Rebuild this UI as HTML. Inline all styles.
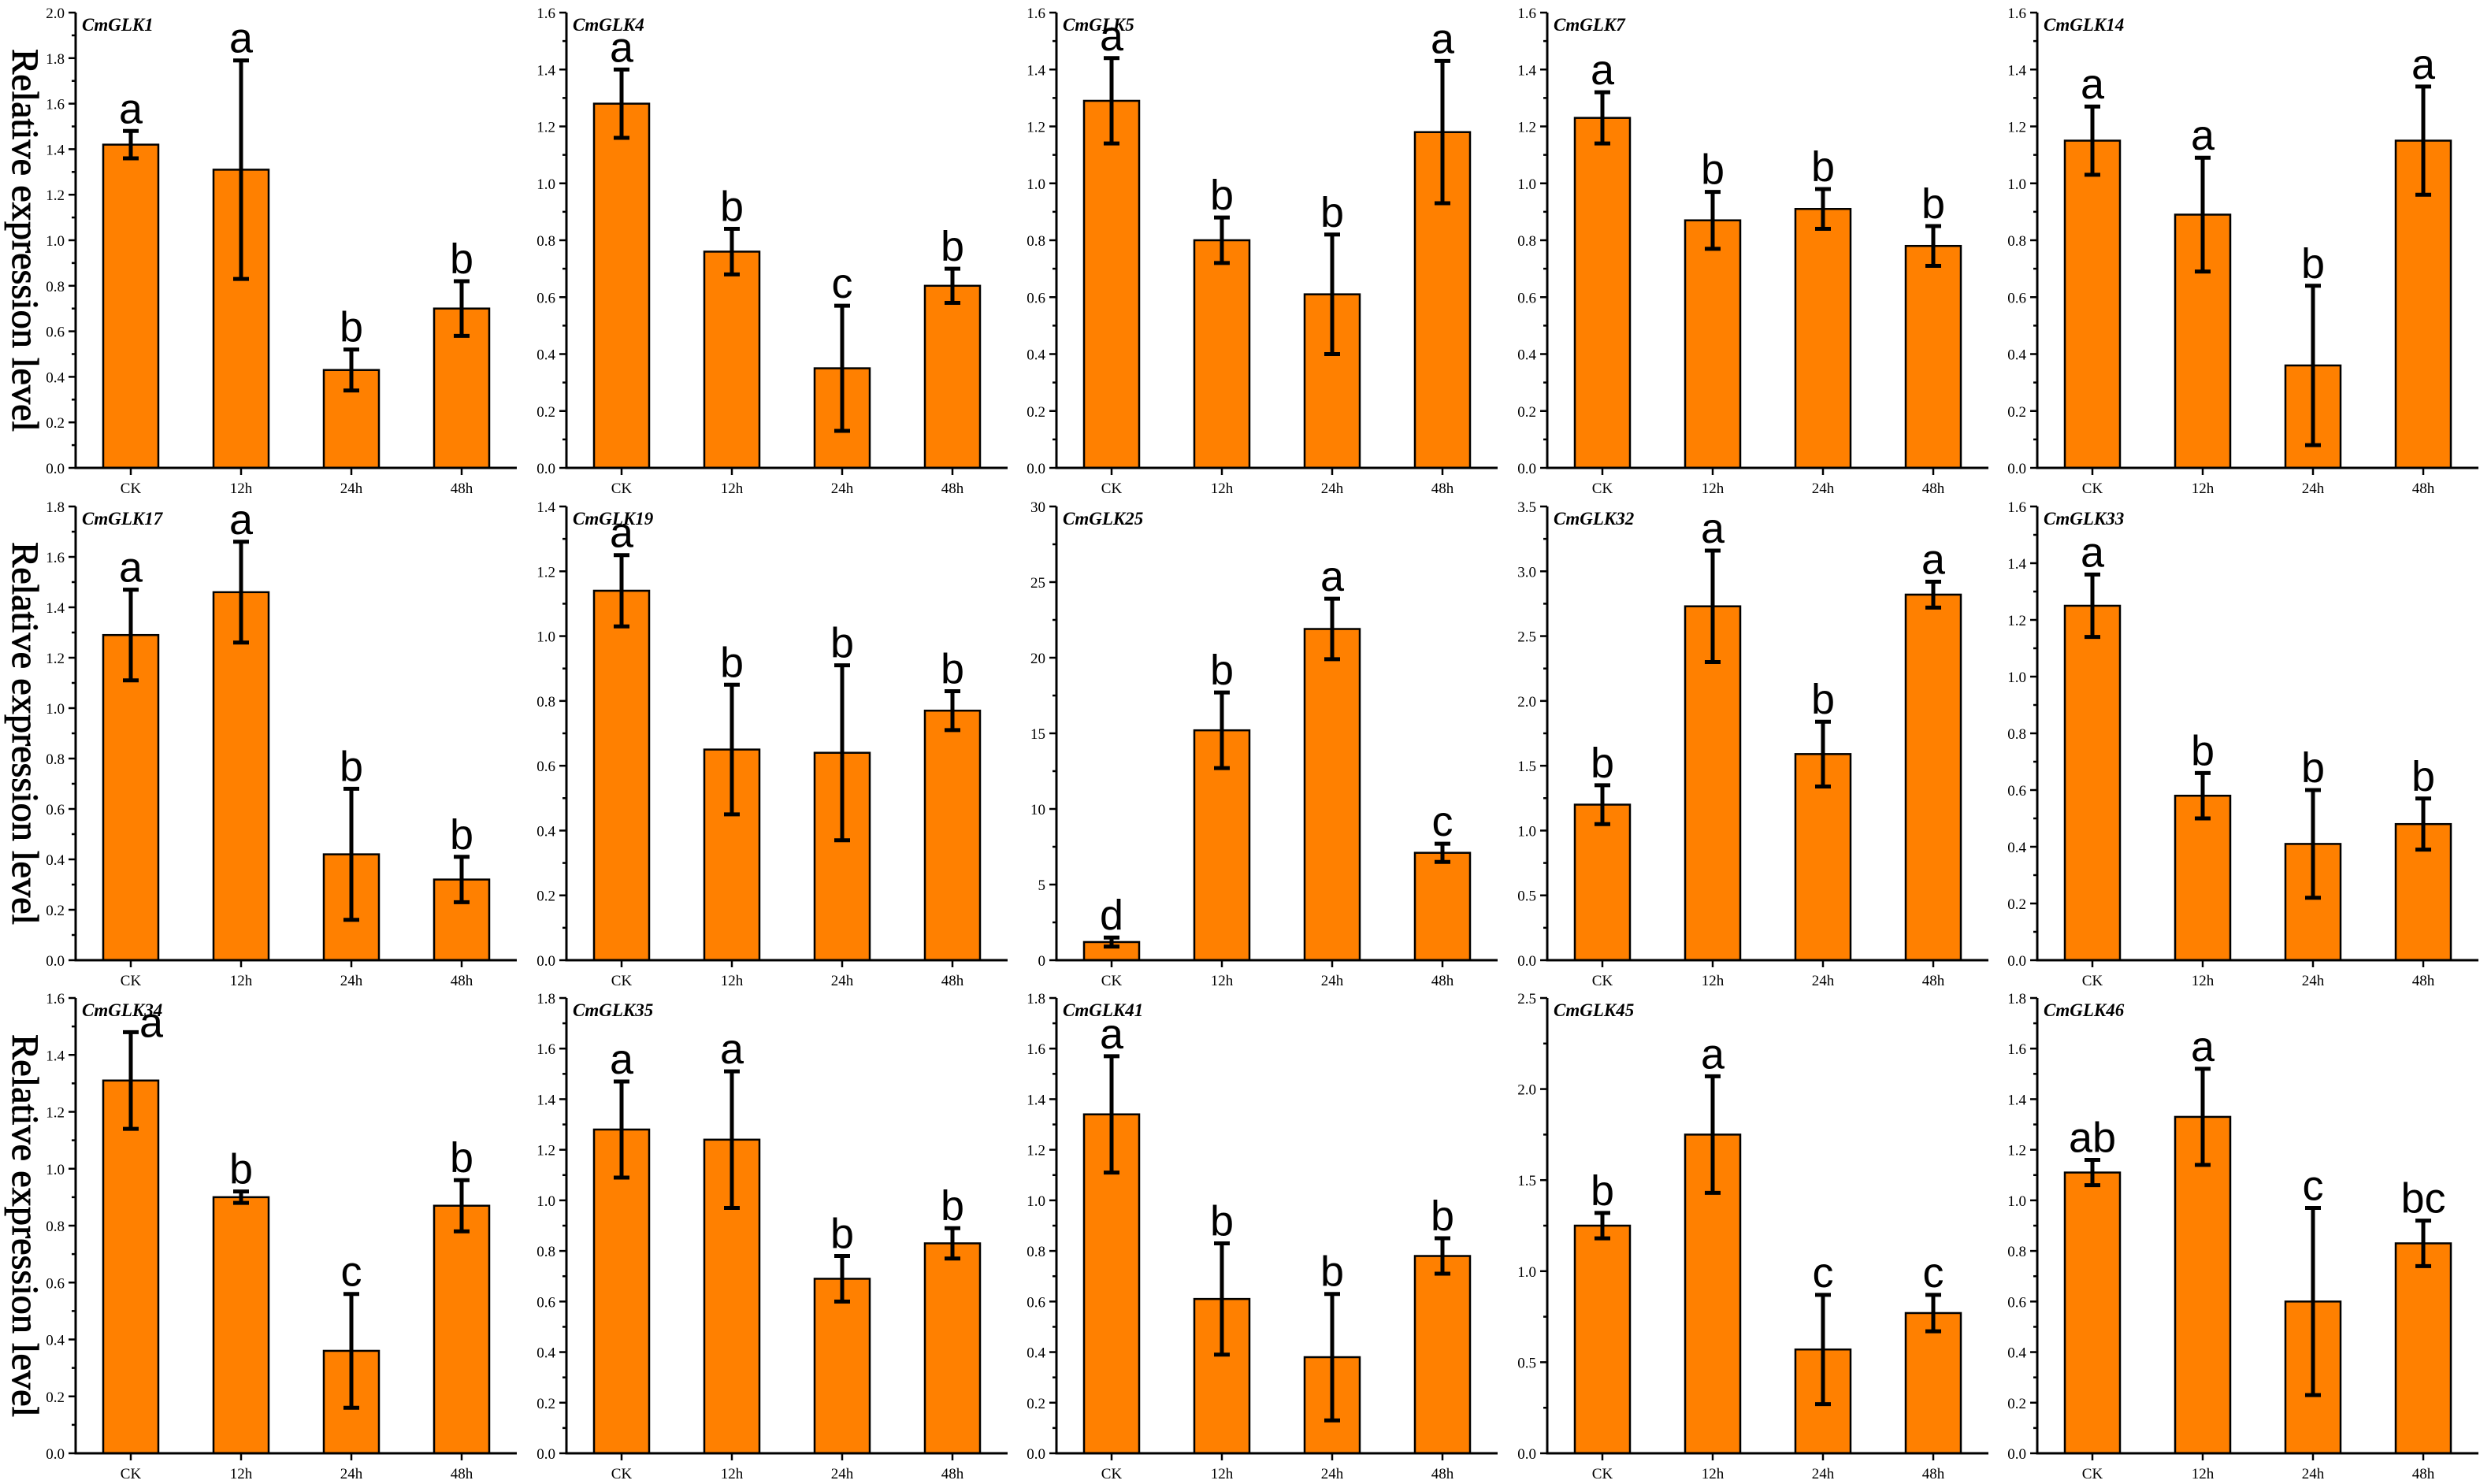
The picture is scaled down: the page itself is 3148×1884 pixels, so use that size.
<!DOCTYPE html>
<html><head><meta charset="utf-8"><style>
html,body{margin:0;padding:0;background:#fff}
svg{display:block}
</style></head><body>
<svg id="chart" width="3148" height="1884" xmlns="http://www.w3.org/2000/svg"></svg>
<script>
const categories = ["CK","12h","24h","48h"];
const genes = ["CmGLK1","CmGLK4","CmGLK5","CmGLK7","CmGLK14","CmGLK17","CmGLK19","CmGLK25","CmGLK32","CmGLK33","CmGLK34","CmGLK35","CmGLK41","CmGLK45","CmGLK46"];
const yMax = [2.0,1.6,1.6,1.6,1.6, 1.8,1.4,30,3.5,1.6, 1.6,1.8,1.8,2.5,1.8];
const yStep = [0.2,0.2,0.2,0.2,0.2, 0.2,0.2,5,0.5,0.2, 0.2,0.2,0.2,0.5,0.2];
const tickDecimals = [1,1,1,1,1, 1,1,0,1,1, 1,1,1,1,1];
const means = [
 [1.42,1.31,0.43,0.70],[1.28,0.76,0.35,0.64],[1.29,0.80,0.61,1.18],[1.23,0.87,0.91,0.78],[1.15,0.89,0.36,1.15],
 [1.29,1.46,0.42,0.32],[1.14,0.65,0.64,0.77],[1.2,15.2,21.9,7.1],[1.20,2.73,1.59,2.82],[1.25,0.58,0.41,0.48],
 [1.31,0.90,0.36,0.87],[1.28,1.24,0.69,0.83],[1.34,0.61,0.38,0.78],[1.25,1.75,0.57,0.77],[1.11,1.33,0.60,0.83]
];
const errors = [
 [0.06,0.48,0.09,0.12],[0.12,0.08,0.22,0.06],[0.15,0.08,0.21,0.25],[0.09,0.10,0.07,0.07],[0.12,0.20,0.28,0.19],
 [0.18,0.20,0.26,0.09],[0.11,0.20,0.27,0.06],[0.3,2.5,2.0,0.6],[0.15,0.43,0.25,0.10],[0.11,0.08,0.19,0.09],
 [0.17,0.02,0.20,0.09],[0.19,0.27,0.09,0.06],[0.23,0.22,0.25,0.07],[0.07,0.32,0.30,0.10],[0.05,0.19,0.37,0.09]
];
const letters = [
 ["a","a","b","b"],["a","b","c","b"],["a","b","b","a"],["a","b","b","b"],["a","a","b","a"],
 ["a","a","b","b"],["a","b","b","b"],["d","b","a","c"],["b","a","b","a"],["a","b","b","b"],
 ["a","b","c","b"],["a","a","b","b"],["a","b","b","b"],["b","a","c","c"],["ab","a","c","bc"]
];

const NS="http://www.w3.org/2000/svg";
const svg=document.getElementById('chart');
function mk(tag,attrs,parent){const e=document.createElementNS(NS,tag);for(const k in attrs)e.setAttribute(k,attrs[k]);(parent||svg).appendChild(e);return e;}

const colX=[96,719,1341,1964,2586];
const rowTop=[16,643,1267];
const rowBot=[594,1219,1845];
const axisW=560;

genes.forEach((g,i)=>{
  const r=Math.floor(i/5), c=i%5;
  const x0=colX[c], top=rowTop[r], bot=rowBot[r];
  const grp=mk('g',{});
  
  
  const ys=v=>bot-(v/yMax[i])*(bot-top);
  const xs=k=>x0+((k+0.5)/4)*axisW;
  const bw=axisW/4*0.5;
  means[i].forEach((m,k)=>{
    const b=mk('rect',{x:xs(k)-bw/2,y:ys(m),width:bw,height:bot-ys(m),fill:'#ff8000',stroke:'#000','stroke-width':2.5},grp);
    
    
  });
  means[i].forEach((m,k)=>{
    const e=errors[i][k], cx=xs(k);
    const eg=mk('g',{stroke:'#000','stroke-width':5},grp);
    
    
    mk('line',{x1:cx,x2:cx,y1:ys(m+e),y2:ys(m-e)},eg);
    mk('line',{x1:cx-10,x2:cx+10,y1:ys(m+e),y2:ys(m+e)},eg);
    mk('line',{x1:cx-10,x2:cx+10,y1:ys(m-e),y2:ys(m-e)},eg);
    const special=(i===10&&k===0);
    const t=mk('text',{x:cx+(special?26:0),y:ys(m+e)-(special?-6:10),'text-anchor':'middle','font-family':'"Liberation Sans",sans-serif','font-size':54,fill:'#000'},grp);
    t.textContent=letters[i][k];
    
    
  });
  const ax=mk('g',{stroke:'#000','stroke-width':3},grp);
  
  
  mk('line',{x1:x0,x2:x0,y1:top,y2:bot+1.5},ax);
  mk('line',{x1:x0,x2:x0+axisW,y1:bot,y2:bot},ax);
  const n=Math.round(yMax[i]/yStep[i]);
  for(let t=0;t<=n;t++){
    const v=t*yStep[i], y=ys(v);
    mk('line',{x1:x0-9,x2:x0,y1:y,y2:y,'stroke-width':2.5},ax);
    if(t<n){const ym=ys(v+yStep[i]/2);mk('line',{x1:x0-5,x2:x0,y1:ym,y2:ym,'stroke-width':2.5},ax);}
    const tl=mk('text',{x:x0-14,y:y+7,'text-anchor':'end','font-family':'"Liberation Serif",serif','font-size':19,fill:'#000'},grp);
    tl.textContent=v.toFixed(tickDecimals[i]);
    
    
  }
  categories.forEach((cat,k)=>{
    mk('line',{x1:xs(k),x2:xs(k),y1:bot,y2:bot+9,'stroke-width':2.5},ax);
    const tl=mk('text',{x:xs(k),y:bot+32,'text-anchor':'middle','font-family':'"Liberation Serif",serif','font-size':19,fill:'#000'},grp);
    tl.textContent=cat;
    
    
  });
  const ti=mk('text',{x:x0+8,y:top+23,'font-family':'"Liberation Serif",serif','font-size':23,'font-weight':'bold','font-style':'italic',fill:'#000'},grp);
  ti.textContent=g;
  
  
});
rowTop.forEach((t,r)=>{
  const cy=(t+rowBot[r])/2;
  const yl=mk('text',{x:0,y:0,transform:`translate(16,${cy}) rotate(90)`,'text-anchor':'middle','font-family':'"Liberation Serif",serif','font-size':48,fill:'#000',stroke:'#000','stroke-width':0.9,textLength:486,lengthAdjust:'spacingAndGlyphs'});
  yl.textContent='Relative expression level';
  
  
});
</script>
</body></html>
